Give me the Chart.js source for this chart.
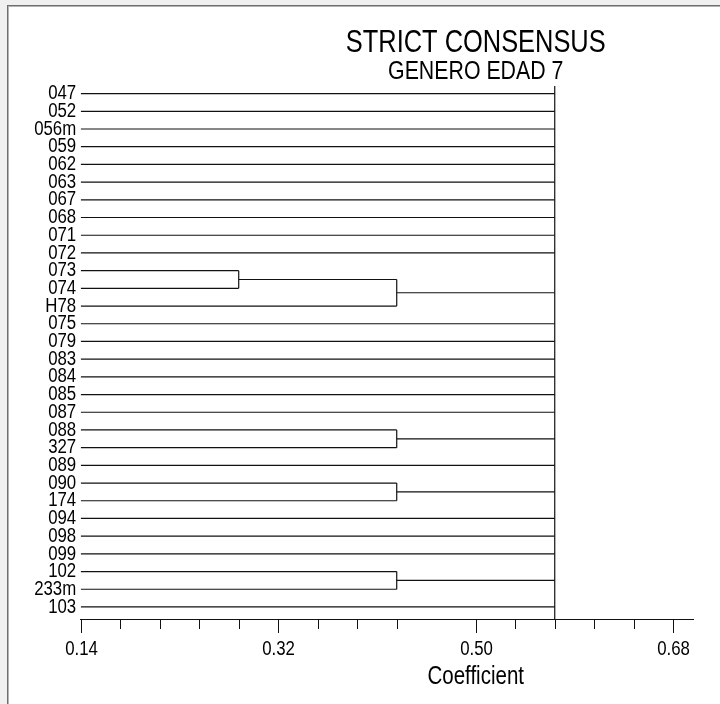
<!DOCTYPE html>
<html>
<head>
<meta charset="utf-8">
<title>Strict consensus</title>
<script src="https://cdn.jsdelivr.net/npm/chart.js@4.4.1/dist/chart.umd.min.js"></script>
<style>
  html, body { margin: 0; padding: 0; background: #f0f0f0; }
  #panel {
    position: absolute; left: 7px; top: 5px; width: 713px; height: 699px;
    background: #fff; border-left: 1px solid #6e6e6e; border-top: 1px solid #6e6e6e;
    box-shadow: inset 1px 1px 0 #b4b4b4;
  }
  #tree { position: absolute; left: 0; top: 0; }
</style>
</head>
<body>
<div id="panel"></div>
<canvas id="tree" width="720" height="704"></canvas>
<script>
const FONT = "'Liberation Sans', Arial, sans-serif";
const NARROW = 0.82; // squeeze factor for an Arial Narrow look

const titleText = "STRICT CONSENSUS";
const subtitleText = "GENERO EDAD 7";
const axisTitle = "Coefficient";

// OTUs, top to bottom
const leaves = ["047", "052", "056m", "059", "062", "063", "067", "068", "071", "072",
  "073", "074", "H78", "075", "079", "083", "084", "085", "087", "088",
  "327", "089", "090", "174", "094", "098", "099", "102", "233m", "103"];

// groups below the root: members (leaf names, or gN for an earlier group) and join level
const groupMembers = [["073", "074"], ["g0", "H78"], ["088", "327"], ["090", "174"], ["102", "233m"]];
const groupLevels = [0.284, 0.428, 0.428, 0.428, 0.428];
const rootLevel = 0.572;
const leafLevel = 0.14;

const xMin = 0.14;
const xMax = 0.698;
const xTickValues = [0.14, 0.176, 0.212, 0.248, 0.284, 0.32, 0.356, 0.392, 0.428,
  0.50, 0.536, 0.572, 0.608, 0.644, 0.68];
const xTickLabels = ["0.14", "0.32", "0.50", "0.68"];

const yTop = -0.43;
const yBottom = 29.68;

// build the bracket segments
const rowOf = {};
const levelOf = {};
leaves.forEach((n, i) => { rowOf[n] = i; levelOf[n] = leafLevel; });
const joined = new Set();
const segments = [];
groupMembers.forEach((kids, g) => {
  const lvl = groupLevels[g];
  const rows = kids.map(k => rowOf[k]);
  kids.forEach(k => {
    segments.push([[levelOf[k], rowOf[k]], [lvl, rowOf[k]]]);
    joined.add(k);
  });
  const lo = Math.min(...rows), hi = Math.max(...rows);
  segments.push([[lvl, lo], [lvl, hi]]);
  rowOf["g" + g] = (lo + hi) / 2;
  levelOf["g" + g] = lvl;
});
Object.keys(rowOf).filter(k => !joined.has(k)).forEach(k => {
  segments.push([[levelOf[k], rowOf[k]], [rootLevel, rowOf[k]]]);
});
segments.push([[rootLevel, yTop], [rootLevel, yBottom]]);

const datasets = segments.map(s => ({
  data: s.map(([x, y]) => ({ x, y })),
  showLine: true,
  borderColor: "#111",
  borderWidth: 1.2,
  pointRadius: 0,
  pointHoverRadius: 0,
}));

function narrowText(ctx, text, x, y, size, align) {
  ctx.save();
  ctx.font = size + "px " + FONT;
  ctx.textAlign = align;
  ctx.textBaseline = "middle";
  ctx.translate(x, y);
  ctx.scale(NARROW, 1);
  ctx.fillText(text, 0, 0);
  ctx.restore();
}

// tick marks and all the lettering, drawn condensed
const axisDecor = {
  id: "axisDecor",
  afterDraw(chart) {
    const { ctx, chartArea, scales } = chart;
    const xs = scales.x, ys = scales.y;
    ctx.save();
    ctx.strokeStyle = "#111";
    ctx.lineWidth = 1;
    ctx.fillStyle = "#000";
    xs.ticks.forEach(t => {
      const px = Math.round(xs.getPixelForValue(t.value)) + 0.5;
      const s = t.value.toFixed(2);
      const labelled = xTickLabels.includes(s);
      ctx.beginPath();
      ctx.moveTo(px, chartArea.bottom);
      ctx.lineTo(px, chartArea.bottom + (labelled ? 14 : 10));
      ctx.stroke();
      if (labelled) narrowText(ctx, s, px, chartArea.bottom + 30, 20.5, "center");
    });
    leaves.forEach((name, i) => {
      narrowText(ctx, name, chartArea.left - 4.5, ys.getPixelForValue(i), 20.5, "right");
    });
    const cx = xs.getPixelForValue(0.5);
    narrowText(ctx, titleText, cx, chartArea.top - 43, 31, "center");
    narrowText(ctx, subtitleText, cx, chartArea.top - 14, 26, "center");
    narrowText(ctx, axisTitle, cx, chartArea.bottom + 58, 25, "center");
    ctx.restore();
  }
};

new Chart(document.getElementById("tree"), {
  type: "scatter",
  data: { datasets },
  options: {
    responsive: false,
    animation: false,
    events: [],
    layout: { padding: { top: 86, right: 27, bottom: 0, left: 0 } },
    plugins: { legend: { display: false }, tooltip: { enabled: false } },
    scales: {
      x: {
        type: "linear",
        min: xMin,
        max: xMax,
        afterBuildTicks: scale => { scale.ticks = xTickValues.map(v => ({ value: v })); },
        afterFit: scale => { scale.height = 85; },
        grid: { display: false },
        border: { display: true, color: "#111", width: 1 },
        ticks: { display: false },
      },
      y: {
        type: "linear",
        reverse: true,
        min: yTop,
        max: yBottom,
        afterBuildTicks: scale => { scale.ticks = leaves.map((_, i) => ({ value: i })); },
        afterFit: scale => { scale.width = 80.7; },
        grid: { display: false },
        border: { display: false },
        ticks: { display: false },
      },
    },
  },
  plugins: [axisDecor],
});
</script>
</body>
</html>
